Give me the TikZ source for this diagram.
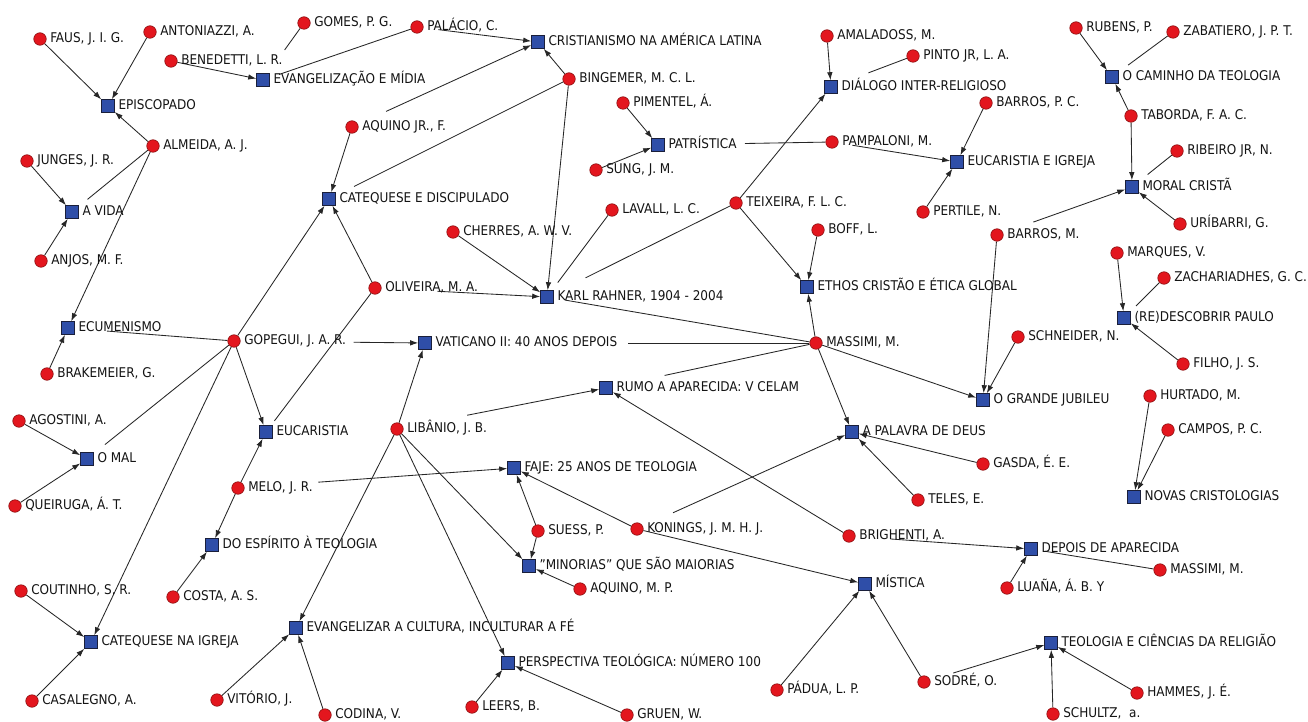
\documentclass[tikz,border=0pt]{standalone}
\usepackage{fontspec}
\setmainfont{DejaVu Sans Condensed}
\usetikzlibrary{calc,arrows.meta}

\definecolor{authorred}{HTML}{E3161E}
\definecolor{authoredge}{HTML}{8A1010}
\definecolor{bookblue}{HTML}{2F4EA8}
\definecolor{bookedge}{HTML}{1A1F3A}
\definecolor{linkgray}{HTML}{262626}
\definecolor{labeltext}{HTML}{141414}

\pgfdeclarelayer{back}
\pgfdeclarelayer{links}
\pgfsetlayers{back,links,main}

% a work (blue square) and an author (red dot), each with its caption on the right
\newcommand{\booknode}[3]{\node[book,label={[lbl]right:{#3}}] (#1) at (#2) {};}
\newcommand{\authornode}[3]{\node[author,label={[lbl]right:{#3}}] (#1) at (#2) {};}

\begin{document}
\begin{tikzpicture}[x=1pt,y=-1pt,
  label distance=3.5pt,
  author/.style={circle,fill=authorred,draw=authoredge,line width=0.6pt,minimum size=12.5pt,inner sep=0pt},
  book/.style={rectangle,fill=bookblue,draw=bookedge,line width=0.6pt,minimum size=13pt,inner sep=0pt},
  lbl/.style={font=\fontsize{13.4}{13.4}\selectfont,text=labeltext,inner sep=0pt,text height=9.8pt,text depth=0pt,yshift=1pt},
  link/.style={draw=linkgray,line width=0.85pt,-{Latex[length=8pt,width=5.5pt]}},
  cut/.style={draw=linkgray,line width=0.85pt}]

\begin{pgfonlayer}{back}
  \fill[white] (0,0) rectangle (1308,722);
\end{pgfonlayer}
\useasboundingbox (0,0) rectangle (1308,722);

% ---- works ----
\booknode{epis}{108,106}{EPISCOPADO}
\booknode{evmid}{263,80}{EVANGELIZAÇÃO E MÍDIA}
\booknode{crist}{538,42}{CRISTIANISMO NA AMÉRICA LATINA}
\booknode{avida}{72,212}{A VIDA}
\booknode{catdis}{329,199}{CATEQUESE E DISCIPULADO}
\booknode{patr}{658,145}{PATRÍSTICA}
\booknode{dial}{831,87}{DIÁLOGO INTER-RELIGIOSO}
\booknode{eucig}{957,162}{EUCARISTIA E IGREJA}
\booknode{camin}{1112,77}{O CAMINHO DA TEOLOGIA}
\booknode{moral}{1132,187}{MORAL CRISTÃ}
\booknode{karl}{547,297}{KARL RAHNER, 1904 - 2004}
\booknode{ethos}{807,287}{ETHOS CRISTÃO E ÉTICA GLOBAL}
\booknode{ecum}{68,328}{ECUMENISMO}
\booknode{vat}{425,343}{VATICANO II: 40 ANOS DEPOIS}
\booknode{redesc}{1124,318}{(RE)DESCOBRIR PAULO}
\booknode{rumo}{606,388}{RUMO A APARECIDA: V CELAM}
\booknode{jubil}{983,400}{O GRANDE JUBILEU}
\booknode{euca}{266,432}{EUCARISTIA}
\booknode{omal}{87,459}{O MAL}
\booknode{palav}{852,432}{A PALAVRA DE DEUS}
\booknode{novas}{1134,497}{NOVAS CRISTOLOGIAS}
\booknode{faje}{514,468}{FAJE: 25 ANOS DE TEOLOGIA}
\booknode{espir}{212,545}{DO ESPÍRITO À TEOLOGIA}
\booknode{minor}{529,566}{"MINORIAS" QUE SÃO MAIORIAS}
\booknode{depois}{1031,549}{DEPOIS DE APARECIDA}
\booknode{mist}{865,584}{MÍSTICA}
\booknode{catig}{91,642}{CATEQUESE NA IGREJA}
\booknode{evcult}{296,628}{EVANGELIZAR A CULTURA, INCULTURAR A FÉ}
\booknode{persp}{508,663}{PERSPECTIVA TEOLÓGICA: NÚMERO 100}
\booknode{teoci}{1051,643}{TEOLOGIA E CIÊNCIAS DA RELIGIÃO}

% ---- authors ----
\authornode{faus}{40,39}{FAUS, J. I. G.}
\authornode{anton}{150,32}{ANTONIAZZI, A.}
\authornode{gomes}{304,23}{GOMES, P. G.}
\authornode{palac}{417,27}{PALÁCIO, C.}
\authornode{bened}{171,61}{BENEDETTI, L. R.}
\authornode{bing}{569,79}{BINGEMER, M. C. L.}
\authornode{aqjr}{352,127}{AQUINO JR., F.}
\authornode{almei}{153,146}{ALMEIDA, A. J.}
\authornode{junges}{27,161}{JUNGES, J. R.}
\authornode{amal}{827,36}{AMALADOSS, M.}
\authornode{pinto}{913,56}{PINTO JR, L. A.}
\authornode{piment}{623,103}{PIMENTEL, Á.}
\authornode{sung}{596,170}{SUNG, J. M.}
\authornode{pamp}{832,142}{PAMPALONI, M.}
\authornode{barpc}{986,103}{BARROS, P. C.}
\authornode{rubens}{1076,28}{RUBENS, P.}
\authornode{zabat}{1173,32}{ZABATIERO, J. P. T.}
\authornode{tabor}{1131,116}{TABORDA, F. A. C.}
\authornode{ribei}{1177,151}{RIBEIRO JR, N.}
\authornode{lavall}{612,210}{LAVALL, L. C.}
\authornode{teix}{736,203}{TEIXEIRA, F. L. C.}
\authornode{pert}{923,212}{PERTILE, N.}
\authornode{cherr}{453,232}{CHERRES, A. W. V.}
\authornode{boff}{818,230}{BOFF, L.}
\authornode{urib}{1180,224}{URÍBARRI, G.}
\authornode{barm}{997,235}{BARROS, M.}
\authornode{anjos}{41,261}{ANJOS, M. F.}
\authornode{marq}{1117,253}{MARQUES, V.}
\authornode{zach}{1164,278}{ZACHARIADHES, G. C.}
\authornode{oliv}{375,288}{OLIVEIRA, M. A.}
\authornode{gopeg}{234,341}{GOPEGUI, J. A. R.}
\authornode{massi}{816,343}{MASSIMI, M.}
\authornode{schn}{1018,337}{SCHNEIDER, N.}
\authornode{brak}{47,374}{BRAKEMEIER, G.}
\authornode{filho}{1183,364}{FILHO, J. S.}
\authornode{agost}{19,421}{AGOSTINI, A.}
\authornode{hurt}{1150,396}{HURTADO, M.}
\authornode{liban}{397,429}{LIBÂNIO, J. B.}
\authornode{campos}{1168,430}{CAMPOS, P. C.}
\authornode{gasda}{983,464}{GASDA, É. E.}
\authornode{melo}{238,488}{MELO, J. R.}
\authornode{queir}{15,506}{QUEIRUGA, Á. T.}
\authornode{teles}{918,500}{TELES, E.}
\authornode{suess}{538,531}{SUESS, P.}
\authornode{kon}{637,529}{KONINGS, J. M. H. J.}
\authornode{brigh}{849,536}{BRIGHENTI, A.}
\authornode{aqmp}{580,589}{AQUINO, M. P.}
\authornode{costa}{173,597}{COSTA, A. S.}
\authornode{cout}{21,591}{COUTINHO, S. R.}
\authornode{luana}{1007,588}{LUAÑA, Á. B. Y}
\authornode{massr}{1160,570}{MASSIMI, M.}
\authornode{padua}{777,690}{PÁDUA, L. P.}
\authornode{sodre}{924,682}{SODRÉ, O.}
\authornode{hammes}{1137,693}{HAMMES, J. É.}
\authornode{casal}{32,701}{CASALEGNO, A.}
\authornode{vitor}{217,700}{VITÓRIO, J.}
\authornode{codina}{325,715}{CODINA, V.}
\authornode{leers}{472,707}{LEERS, B.}
\authornode{gruen}{627,715}{GRUEN, W.}
\authornode{schul}{1053,714}{SCHULTZ, \ a.}

\begin{pgfonlayer}{links}
% authorship links ending in an arrow at the work
\foreach \a/\b in {faus/epis, anton/epis, almei/epis, almei/ecum, junges/avida,
  anjos/avida, brak/ecum, gopeg/catdis, gopeg/euca, gopeg/catig, agost/omal,
  queir/omal, bened/evmid, bing/crist, bing/karl, aqjr/catdis, piment/patr,
  sung/patr, barpc/eucig, pert/eucig, amal/dial, teix/dial, teix/ethos,
  boff/ethos, massi/ethos, massi/jubil, massi/palav, barm/jubil, schn/jubil,
  rubens/camin, tabor/camin, tabor/moral, urib/moral, marq/redesc,
  filho/redesc, hurt/novas, campos/novas, cherr/karl, oliv/catdis, melo/euca,
  melo/espir, costa/espir, liban/vat, liban/evcult, liban/minor, liban/persp,
  suess/faje, suess/minor, kon/faje, kon/mist, aqmp/minor, brigh/rumo,
  luana/depois, gasda/palav, teles/palav, padua/mist, sodre/mist, schul/teoci,
  hammes/teoci, cout/catig, casal/catig, vitor/evcult, codina/evcult,
  leers/persp, gruen/persp}
  \draw[link] (\a) -- (\b);

% links that leave from under the author's caption
\foreach \a/\b/\s in {gopeg/vat/113, melo/faje/74, oliv/karl/56, liban/rumo/65,
  brigh/depois/35, barm/moral/32, sodre/teoci/24, palac/crist/15,
  pamp/eucig/14, aqjr/crist/31, kon/palav/33}
  \draw[link,shorten <=\s pt] (\a) -- (\b);

% links that stop at the caption of the work, with no arrow
\foreach \a/\b/\d in {almei/avida/20, gopeg/ecum/39, gopeg/omal/23,
  gomes/evmid/37, palac/evmid/17, bing/catdis/28, pamp/patr/87, pinto/dial/40,
  teix/karl/43, lavall/karl/18, massi/karl/18, massi/vat/203, massi/rumo/60,
  zabat/camin/20, ribei/moral/20, zach/redesc/17, oliv/euca/14, massr/depois/14}
  \draw[cut] (\a) -- ($(\b)!\d pt!(\a)$);
\end{pgfonlayer}
\end{tikzpicture}
\end{document}
